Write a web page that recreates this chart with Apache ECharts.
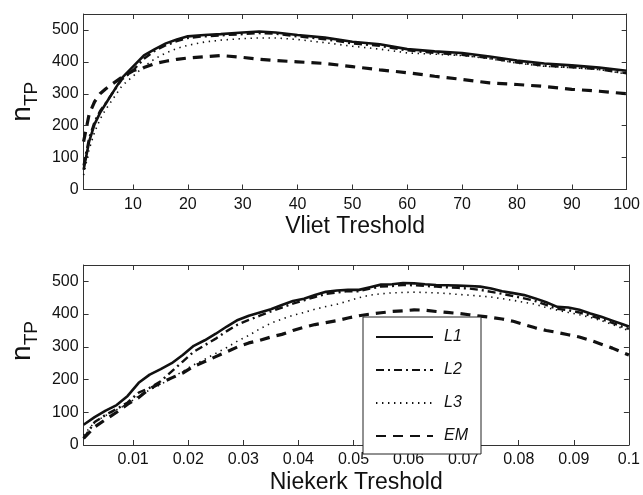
<!DOCTYPE html>
<html>
<head>
<meta charset="utf-8">
<script src="https://cdn.jsdelivr.net/npm/echarts@6/dist/echarts.min.js"></script>
<style>html,body{margin:0;padding:0;background:#fff}#c{width:643px;height:495px}</style>
</head>
<body>
<div id="c"></div>
<script>
// ---- Top panel: Vliet threshold ----
var vlietX = [1,2,3,4,5,6,8,10,12,14,16,18,20,23,26,30,33,36,40,45,50,55,60,65,70,75,80,85,90,95,100];
var vlietL1 = [62,150,205,240,268,295,350,385,420,440,458,470,480,484,487,492,495,492,484,476,463,455,440,433,428,417,404,395,389,382,372];
var vlietL2 = [75,160,212,246,270,296,345,373,410,435,452,465,475,480,483,487,490,488,480,471,458,450,436,428,422,412,398,388,383,377,364];
var vlietL3 = [45,125,180,220,250,275,325,355,385,410,428,442,452,462,468,473,475,475,470,460,449,440,428,424,420,410,396,386,382,376,362];
var vlietEM = [150,235,275,300,315,328,352,372,382,395,402,408,412,416,420,414,408,404,400,395,385,375,366,355,345,334,329,323,314,308,300];
var vlietTicks = [10,20,30,40,50,60,70,80,90,100];

// ---- Bottom panel: Niekerk threshold ----
var niekX = [0.001,0.003,0.005,0.007,0.009,0.011,0.013,0.015,0.017,0.019,0.021,0.023,0.025,0.027,0.029,0.031,0.033,0.035,0.037,0.039,0.041,0.043,0.045,0.047,0.049,0.051,0.053,0.055,0.057,0.059,0.061,0.063,0.065,0.067,0.069,0.071,0.073,0.075,0.077,0.079,0.081,0.083,0.085,0.087,0.089,0.091,0.093,0.095,0.097,0.099,0.1];
var niekL1 = [62,85,105,122,150,190,215,232,250,275,303,320,340,362,382,395,405,415,428,440,447,458,468,472,474,474,482,490,491,495,494,491,489,488,487,486,484,478,470,464,458,448,436,422,420,413,402,392,380,368,362];
var niekL2 = [20,70,92,110,130,160,175,195,225,255,285,305,325,348,368,382,395,408,420,432,442,452,462,466,470,470,478,484,486,489,488,486,484,482,480,478,474,468,462,455,448,440,428,416,412,405,395,385,373,360,355];
var niekL3 = [30,70,90,108,125,150,168,185,205,225,245,262,280,298,318,335,355,372,385,396,405,415,423,430,440,450,458,462,465,466,467,466,465,463,460,458,455,452,447,442,436,430,420,412,405,398,390,380,368,355,350];
var niekEM = [20,55,78,100,125,145,172,190,205,220,240,255,270,285,300,312,320,330,338,350,360,368,374,380,388,395,400,404,408,410,413,412,408,405,402,398,394,390,385,378,368,358,350,344,337,330,320,308,296,282,275];
var niekTicks = [0.01,0.02,0.03,0.04,0.05,0.06,0.07,0.08,0.09,0.1];
var niekTickLabels = ['0.01','0.02','0.03','0.04','0.05','0.06','0.07','0.08','0.09','0.1'];

var yTicks = [0,100,200,300,400,500];
var seriesNames = ['L1','L2','L3','EM'];

var FONT = '"Liberation Sans", Arial, Helvetica, sans-serif';
var INK = '#111';
var TXT = '#111';

var styles = {
  L1: {type:'solid', width:2.6},
  L2: {type:[8,4,2,4], width:2.4},
  L3: {type:[1.4,4.6], width:1.6},
  EM: {type:[10,7], width:3.2}
};

function pairs(xs, ys){ return xs.map(function(x,i){ return [x, ys[i]]; }); }

function mkX(grid, min, max, ticks, labels, titleText) {
  var base = {
    gridIndex: grid, type:'value', min:min, max:max,
    axisLine:{show:true, onZero:false, lineStyle:{color:'#333', width:1}},
    splitLine:{show:false}
  };
  var b = Object.assign({}, base, {
    position:'bottom',
    name:titleText, nameLocation:'middle', nameGap:26,
    nameTextStyle:{fontFamily:FONT, fontSize:23, color:TXT},
    axisTick:{show:true, inside:true, length:5, customValues:ticks, lineStyle:{color:'#333'}},
    axisLabel:{show:true, margin:7, customValues:ticks, fontFamily:FONT, fontSize:16, color:TXT,
      formatter:function(v){ var i = ticks.indexOf(v); return labels ? (i>=0?labels[i]:'') : String(v); }}
  });
  var t = Object.assign({}, base, {
    position:'top',
    axisTick:{show:true, inside:true, length:5, customValues:ticks, lineStyle:{color:'#333'}},
    axisLabel:{show:false}
  });
  return [b, t];
}

function mkY(grid, padBottom) {
  var base = {
    gridIndex:grid, type:'value', min:0, max:550,
    axisLine:{show:true, onZero:false, lineStyle:{color:'#333', width:1}},
    splitLine:{show:false}
  };
  var l = Object.assign({}, base, {
    position:'left',
    name:'{n|n}{s|TP}', nameLocation:'middle', nameRotate:90, nameGap:36,
    nameTextStyle:{padding:[0,0,0,padBottom], rich:{
      n:{fontFamily:FONT, fontSize:28, lineHeight:28, color:TXT, verticalAlign:'top'},
      s:{fontFamily:FONT, fontSize:19, lineHeight:19, color:TXT, verticalAlign:'top', padding:[14,0,0,0]}
    }},
    axisTick:{show:true, inside:true, length:5, customValues:yTicks, lineStyle:{color:'#333'}},
    axisLabel:{show:true, margin:5, customValues:yTicks, fontFamily:FONT, fontSize:16, color:TXT}
  });
  var r = Object.assign({}, base, {
    position:'right',
    axisTick:{show:true, inside:true, length:5, customValues:yTicks, lineStyle:{color:'#333'}},
    axisLabel:{show:false}
  });
  return [l, r];
}

var xTop = mkX(0, 1, 100, vlietTicks, null, 'Vliet Treshold');
var xBot = mkX(1, 0.001, 0.1, niekTicks, niekTickLabels, 'Niekerk Treshold');
var yTop = mkY(0, 0);
var yBot = mkY(1, 28);

var series = [];
var topData = {L1:vlietL1, L2:vlietL2, L3:vlietL3, EM:vlietEM};
var botData = {L1:niekL1, L2:niekL2, L3:niekL3, EM:niekEM};
seriesNames.forEach(function(n){
  series.push({name:n, type:'line', xAxisIndex:0, yAxisIndex:0, symbol:'none', showSymbol:false,
    lineStyle:{color:INK, type:styles[n].type, width:styles[n].width, cap:'butt'},
    itemStyle:{color:INK},
    data:pairs(vlietX, topData[n])});
});
seriesNames.forEach(function(n){
  series.push({name:n, type:'line', xAxisIndex:2, yAxisIndex:2, symbol:'none', showSymbol:false,
    lineStyle:{color:INK, type:styles[n].type, width:styles[n].width, cap:'butt'},
    itemStyle:{color:INK},
    data:pairs(niekX, botData[n])});
});

var chart = echarts.init(document.getElementById('c'), null, {renderer:'canvas'});
chart.setOption({
  animation:false,
  backgroundColor:'#fff',
  grid:[
    {left:81, right:14, top:14, height:175.5},
    {left:80, right:14, top:265, height:181.5}
  ],
  xAxis:[xTop[0], xTop[1], xBot[0], xBot[1]],
  yAxis:[yTop[0], yTop[1], yBot[0], yBot[1]],
  legend:{
    data:seriesNames, orient:'vertical', left:363, top:317,
    padding:[12,13,10,12], itemWidth:57, itemHeight:14, itemGap:17,
    backgroundColor:'#fff', borderColor:'#222', borderWidth:1, borderRadius:0,
    selectedMode:false,
    itemStyle:{color:'rgba(0,0,0,0)', borderColor:'rgba(0,0,0,0)', borderWidth:0, opacity:0},
    textStyle:{fontFamily:FONT, fontSize:16, fontStyle:'italic', color:TXT, padding:[0,0,0,6]}
  },
  series:series
});
</script>
</body>
</html>
